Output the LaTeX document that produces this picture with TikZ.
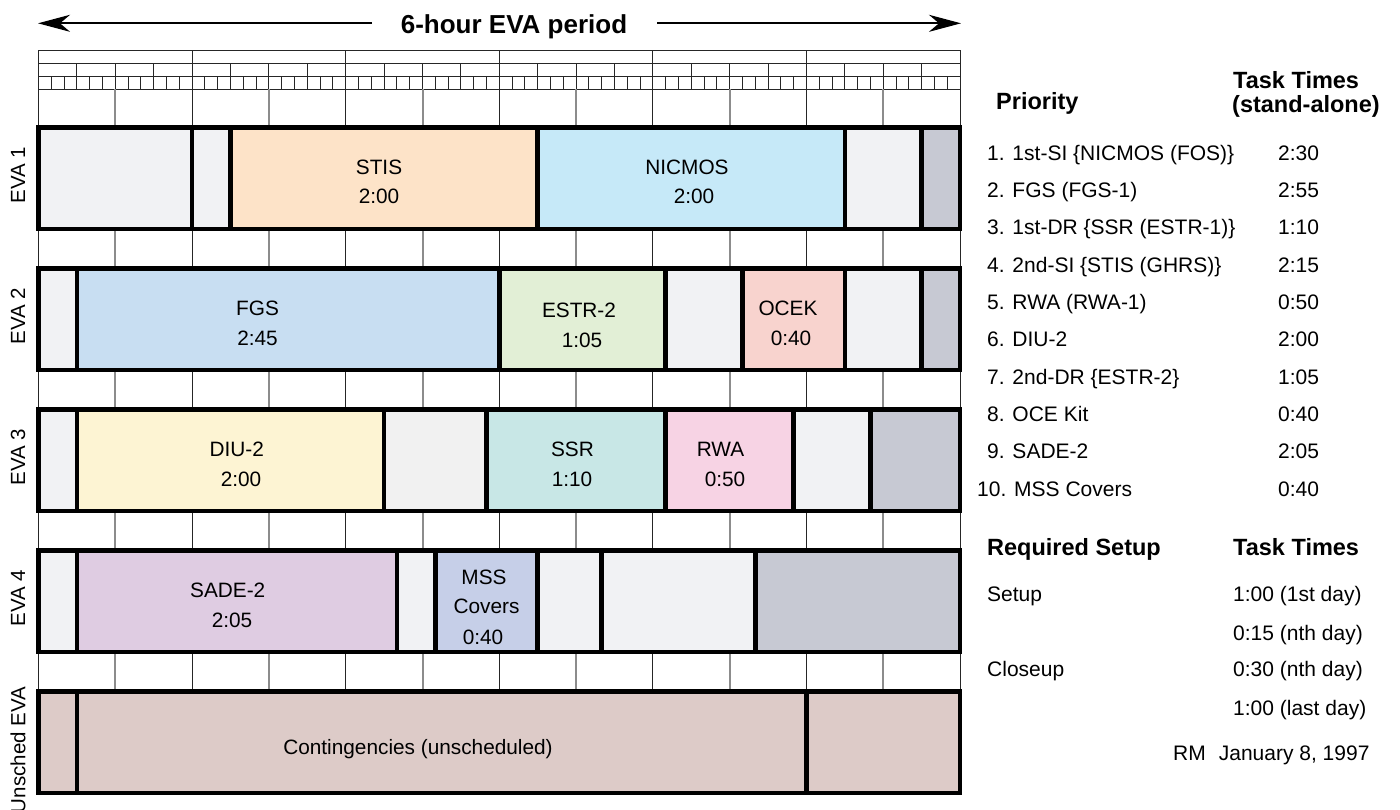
\documentclass[tikz,border=0pt]{standalone}
\usepackage{fontspec}
\setmainfont{Liberation Sans}
\usetikzlibrary{arrows.meta}
\definecolor{lg}{HTML}{F1F2F4}
\definecolor{lg2}{HTML}{F1F1F1}
\definecolor{dg}{HTML}{C7C9D3}
\definecolor{cstis}{HTML}{FDE3C8}
\definecolor{cnic}{HTML}{C6E9F8}
\definecolor{cfgs}{HTML}{C8DEF2}
\definecolor{cestr}{HTML}{E2EFD6}
\definecolor{cocek}{HTML}{F8D3CE}
\definecolor{cdiu}{HTML}{FDF4D3}
\definecolor{cssr}{HTML}{C8E7E6}
\definecolor{crwa}{HTML}{F7D3E4}
\definecolor{csade}{HTML}{DFCCE2}
\definecolor{cmss}{HTML}{C6CFE8}
\definecolor{ccont}{HTML}{DDCBC8}
\definecolor{tickgrey}{HTML}{8C8C8C}
\newcommand\rowcells[3]{%
  \foreach \a/\b/\c in {#3} {\fill[\c] ({tx(\a)},#1) rectangle ({tx(\b)},#2);}
  \foreach \a/\b/\c in {#3} {\draw[cellline] ({tx(\a)},#1) rectangle ({tx(\b)},#2);}
}
\begin{document}
\begin{tikzpicture}[x=1pt,y=-1pt,
  declare function={tx(\t)=38.5+2.56*\t;},
  cellline/.style={draw=black, line width=4.6pt, line join=miter},
  boxtxt/.style={font=\fontsize{20.8}{24}\selectfont, anchor=base, inner sep=0pt},
  itemtxt/.style={font=\fontsize{21}{24}\selectfont, anchor=base west, inner sep=0pt},
  headtxt/.style={font=\bfseries\fontsize{23.5}{26}\selectfont, anchor=base west, inner sep=0pt},
  rowlbl/.style={font=\fontsize{20.5}{24}\selectfont, rotate=90, inner sep=0pt},
  hourline/.style={line width=1pt, draw=black!85},
  halfline/.style={line width=2pt, draw=tickgrey},
  period/.style={line width=2pt, -{Stealth[length=32pt, width=17pt, inset=10pt]}},
  ]
\useasboundingbox (0,0) rectangle (1400,809);
\fill[white] (0,0) rectangle (1400,809);

% title and arrows
\node[font=\bfseries\fontsize{26}{30}\selectfont, anchor=base, inner sep=0pt] (title) at (514,33.3) {6-hour EVA period};
\coordinate (lefttip) at (38,23.3);
\coordinate (leftstart) at (372,23.3);
\coordinate (righttip) at (961,23.3);
\coordinate (rightstart) at (657,23.3);
\draw[period] (leftstart) -- (lefttip);
\draw[period] (rightstart) -- (righttip);

% ruler
\foreach \y in {50,63.3,76.7,89.3} \draw[hourline] (38.5,\y) -- (960.1,\y);
\foreach \t in {0,5,...,360} \draw[hourline] ({tx(\t)},76.7) -- ({tx(\t)},89.3);
\foreach \t in {0,15,...,360} \draw[hourline] ({tx(\t)},63.3) -- ({tx(\t)},89.3);
\foreach \t in {0,60,...,360} \draw[hourline] ({tx(\t)},50) -- ({tx(\t)},793);
\foreach \t in {30,90,...,330} \draw[halfline] ({tx(\t)},89.3) -- ({tx(\t)},793);

% rows
\rowcells{127.5}{229}{0/60/lg,60/75/lg,75/195/cstis,195/315/cnic,315/345/lg,345/360/dg}
\rowcells{268.5}{370}{0/15/lg,15/180/cfgs,180/245/cestr,245/275/lg,275/315/cocek,315/345/lg,345/360/dg}
\rowcells{409.5}{511}{0/15/lg,15/135/cdiu,135/175/lg2,175/245/cssr,245/295/crwa,295/325/lg,325/360/dg}
\rowcells{550.5}{652}{0/15/lg,15/140/csade,140/155/lg,155/195/cmss,195/220/lg,220/280/lg,280/360/dg}
\rowcells{691.5}{793}{0/15/ccont,15/300/ccont,300/360/ccont}

% row labels
\node[rowlbl] (eva1) at (18,175) {EVA 1};
\node[rowlbl] (eva2) at (18,316) {EVA 2};
\node[rowlbl] (eva3) at (18,457) {EVA 3};
\node[rowlbl] (eva4) at (18,598) {EVA 4};
\node[rowlbl] (eva5) at (18,750) {Unsched EVA};

% box texts
\node[boxtxt] (stis) at (379,174) {STIS};
\node[boxtxt] (stist) at (379,203.3) {2:00};
\node[boxtxt] (nic) at (687,174) {NICMOS};
\node[boxtxt] (nict) at (694,203.3) {2:00};
\node[boxtxt] (fgs) at (257.5,315) {FGS};
\node[boxtxt] (fgst) at (257.5,345) {2:45};
\node[boxtxt] (estr) at (579,317) {ESTR-2};
\node[boxtxt] (estrt) at (582,347) {1:05};
\node[boxtxt] (ocek) at (788,315) {OCEK};
\node[boxtxt] (ocekt) at (791,345) {0:40};
\node[boxtxt] (diu) at (236.7,456) {DIU-2};
\node[boxtxt] (diut) at (241,486) {2:00};
\node[boxtxt] (ssr) at (572.5,456.7) {SSR};
\node[boxtxt] (ssrt) at (572,486.7) {1:10};
\node[boxtxt] (rwa) at (720.5,456.7) {RWA};
\node[boxtxt] (rwat) at (725,486.7) {0:50};
\node[boxtxt] (sade) at (227.7,597.3) {SADE-2};
\node[boxtxt] (sadet) at (232,627.3) {2:05};
\node[boxtxt] (mss) at (484,584) {MSS};
\node[boxtxt] (msscov) at (486.5,613.3) {Covers};
\node[boxtxt] (msst) at (483,644) {0:40};
\node[boxtxt] (cont) at (418,754) {Contingencies (unscheduled)};

% right column
\node[headtxt] (prio) at (996,109.3) {Priority};
\node[headtxt] (tt1) at (1233,88.3) {Task Times};
\node[headtxt] (tt1b) at (1232,112.7) {(stand-alone)};

\node[itemtxt] (i1) at (987,160) {1. 1st-SI \{NICMOS (FOS)\}};
\node[itemtxt] (i2) at (987,197.3) {2. FGS (FGS-1)};
\node[itemtxt] (i3) at (987,234.7) {3. 1st-DR \{SSR (ESTR-1)\}};
\node[itemtxt] (i4) at (987,272) {4. 2nd-SI \{STIS (GHRS)\}};
\node[itemtxt] (i5) at (987,309.3) {5. RWA (RWA-1)};
\node[itemtxt] (i6) at (987,346.7) {6. DIU-2};
\node[itemtxt] (i7) at (987,384) {7. 2nd-DR \{ESTR-2\}};
\node[itemtxt] (i8) at (987,421.3) {8. OCE Kit};
\node[itemtxt] (i9) at (987,458.7) {9. SADE-2};
\node[itemtxt] (i10) at (977,496) {10. MSS Covers};

\node[itemtxt] (t1) at (1278,160) {2:30};
\node[itemtxt] (t2) at (1278,197.3) {2:55};
\node[itemtxt] (t3) at (1278,234.7) {1:10};
\node[itemtxt] (t4) at (1278,272) {2:15};
\node[itemtxt] (t5) at (1278,309.3) {0:50};
\node[itemtxt] (t6) at (1278,346.7) {2:00};
\node[itemtxt] (t7) at (1278,384) {1:05};
\node[itemtxt] (t8) at (1278,421.3) {0:40};
\node[itemtxt] (t9) at (1278,458.7) {2:05};
\node[itemtxt] (t10) at (1278,496) {0:40};

\node[headtxt] (req) at (987,555) {Required Setup};
\node[headtxt] (tt2) at (1233,555) {Task Times};
\node[itemtxt] (setup) at (987,601.7) {Setup};
\node[itemtxt] (s1) at (1233,601.7) {1:00 (1st day)};
\node[itemtxt] (s2) at (1233,640) {0:15 (nth day)};
\node[itemtxt] (close) at (987,676.7) {Closeup};
\node[itemtxt] (c1) at (1233,676.7) {0:30 (nth day)};
\node[itemtxt] (c2) at (1233,715) {1:00 (last day)};
\node[itemtxt] (rm) at (1173,760) {RM\hspace{13pt}January 8, 1997};
\end{tikzpicture}
\end{document}
